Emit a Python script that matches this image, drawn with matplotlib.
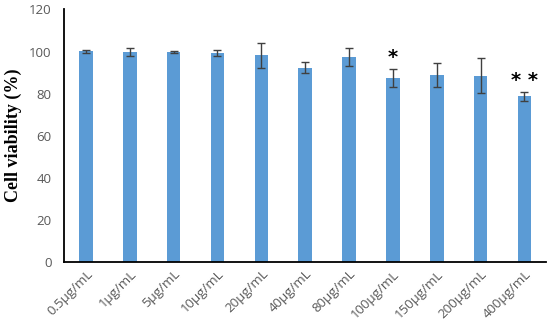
import matplotlib
matplotlib.use("Agg")
import matplotlib.pyplot as plt
import numpy as np

labels = ["0.5μg/mL", "1μg/mL", "5μg/mL", "10μg/mL", "20μg/mL", "40μg/mL",
          "80μg/mL", "100μg/mL", "150μg/mL", "200μg/mL", "400μg/mL"]
viability = [100.1, 99.8, 99.6, 99.2, 98.2, 92.2, 97.5, 87.3, 88.8, 88.6, 78.7]
errors = [0.7, 2.0, 0.5, 1.4, 6.0, 2.6, 4.4, 4.3, 5.8, 8.4, 2.1]
stars = {7: "*", 10: "* *"}

fig = plt.figure(figsize=(5.5, 3.25), dpi=100)
ax = fig.add_axes([0.1164, 0.194, 0.877, 0.777])

x = np.arange(len(labels))
ax.bar(x, viability, width=0.31, color="#5B9BD5", zorder=2)
ax.errorbar(x, viability, yerr=errors, fmt="none", ecolor="#404040",
            elinewidth=1, capsize=3, capthick=1, zorder=3)

for i, s in stars.items():
    ax.text(i, viability[i] + errors[i] + 1, s, ha="center", va="bottom",
            fontsize=14, fontweight="bold", color="black")

ax.set_xlim(-0.5, len(labels) - 0.5)
ax.set_ylim(0, 120)
ax.set_yticks(range(0, 121, 20))
ax.set_xticks(x)
ax.set_xticklabels(labels, rotation=45, ha="right", rotation_mode="anchor",
                   fontsize=9.5, color="#595959", family="Open Sans")
for t in ax.get_yticklabels():
    t.set_fontsize(9.5)
    t.set_color("#595959")
    t.set_family("Open Sans")
ax.tick_params(axis="y", length=0, pad=9)
ax.tick_params(axis="x", length=0, pad=4)

for s in ["top", "right"]:
    ax.spines[s].set_visible(False)
ax.spines["left"].set_linewidth(1.3)
ax.spines["bottom"].set_linewidth(1.3)

ax.set_ylabel("Cell viability (%)", family="Liberation Serif",
              fontweight="bold", fontsize=13, labelpad=5)

fig.savefig("out.png", dpi=100)
